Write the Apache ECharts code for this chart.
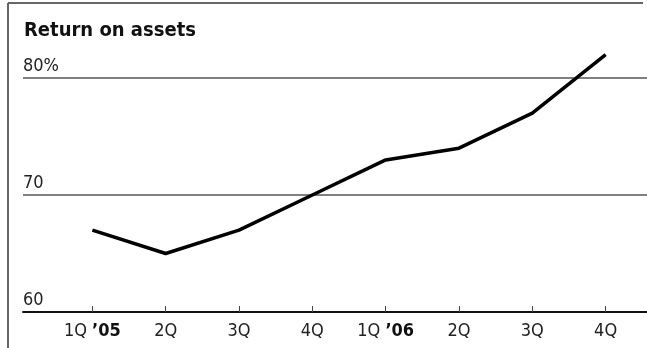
<!DOCTYPE html>
<html>
<head>
<meta charset="utf-8">
<script src="https://cdn.jsdelivr.net/npm/echarts@6/dist/echarts.min.js"></script>
<style>
  html, body { margin: 0; padding: 0; background: #fff; }
  #chart { width: 647px; height: 348px; }
</style>
</head>
<body>
<div id="chart"></div>
<script>
var quarters = ['1Q ’05', '2Q', '3Q', '4Q', '1Q ’06', '2Q', '3Q', '4Q'];
var roa = [67, 65, 67, 70, 73, 74, 77, 82];
var yTicks = [60, 70, 80];

var font = "'DejaVu Sans Condensed', 'Liberation Sans Narrow', sans-serif";

var box = echarts.init(document.getElementById('chart'));

option = {
    animation: false,
    textStyle: { fontFamily: font },
    title: {
        text: 'Return on assets',
        left: 19,
        top: 16,
        textStyle: {
            fontFamily: font,
            fontSize: 20,
            fontWeight: 'bold',
            color: '#111'
        }
    },
    graphic: [
        // frame (top + left edges)
        { type: 'line', shape: { x1: 8, y1: 3, x2: 643, y2: 3 }, style: { stroke: '#666', lineWidth: 2 } },
        { type: 'line', shape: { x1: 8, y1: 3, x2: 8, y2: 348 }, style: { stroke: '#666', lineWidth: 2 } }
    ],
    grid: [
        { left: 23, right: 0, top: 78, bottom: 36 },
        { left: 55.7, right: 4.7, top: 78, bottom: 36 }
    ],
    xAxis: [
        {
            gridIndex: 0,
            type: 'value',
            min: 0,
            max: 1,
            axisLine: { show: true, onZero: false, lineStyle: { color: '#111', width: 2 } },
            axisTick: { show: false },
            axisLabel: { show: false },
            splitLine: { show: false }
        },
        {
            gridIndex: 1,
            type: 'category',
            data: quarters,
            boundaryGap: true,
            axisLine: { show: false },
            axisTick: { show: true, inside: true, length: 6, alignWithLabel: true, lineStyle: { color: '#444', width: 1 } },
            axisLabel: {
                interval: 0,
                hideOverlap: false,
                margin: 10,
                fontSize: 18,
                color: '#222',
                formatter: function (v) {
                    var parts = v.split(' ');
                    return parts.length > 1 ? parts[0] + ' {b|' + parts[1] + '}' : v;
                },
                rich: { b: { fontSize: 18, fontWeight: 'bold', color: '#111' } }
            }
        }
    ],
    yAxis: [
        {
            gridIndex: 0,
            type: 'value',
            min: yTicks[0],
            max: yTicks[yTicks.length - 1],
            interval: 10,
            axisLine: { show: false },
            axisTick: { show: false },
            axisLabel: {
                inside: true,
                margin: 0,
                fontSize: 18,
                color: '#222',
                verticalAlign: 'bottom',
                padding: [0, 0, 3, 0],
                formatter: function (v) { return v === 80 ? v + '%' : String(v); }
            },
            splitLine: { show: true, lineStyle: { color: '#555', width: 1.5 } }
        },
        {
            gridIndex: 1,
            type: 'value',
            min: yTicks[0],
            max: yTicks[yTicks.length - 1],
            show: false
        }
    ],
    series: [
        {
            type: 'line',
            xAxisIndex: 1,
            yAxisIndex: 1,
            data: roa,
            clip: false,
            symbol: 'none',
            lineStyle: { color: '#000', width: 3.5 },
            z: 5
        }
    ]
};
box.setOption(option);
</script>
</body>
</html>
